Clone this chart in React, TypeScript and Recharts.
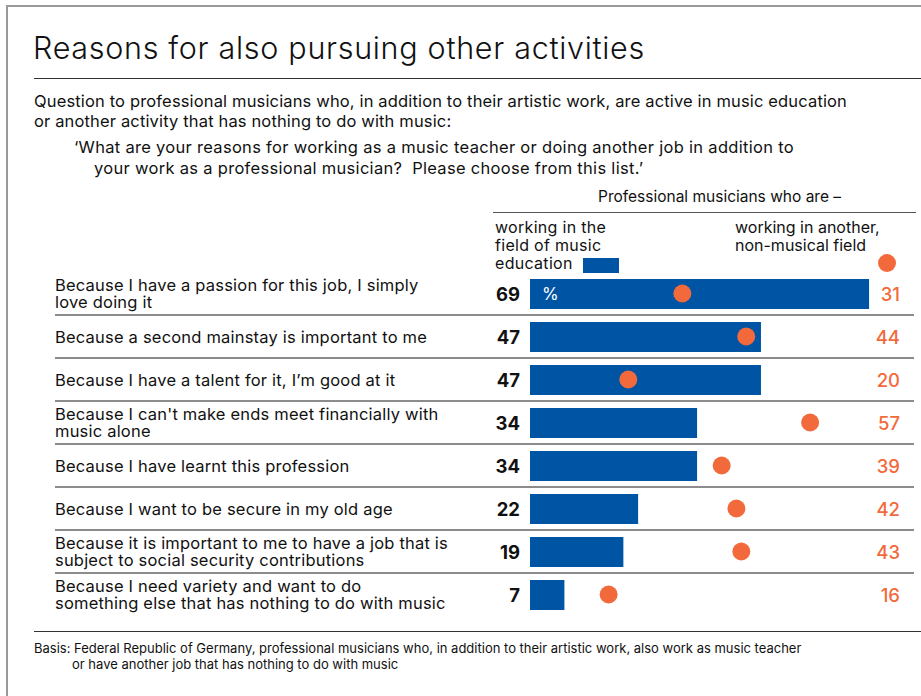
import { Bar, ComposedChart, LabelList, Line, XAxis, YAxis } from 'recharts';

const reasons = [
  ['Because I have a passion for this job, I simply', 'love doing it'],
  ['Because a second mainstay is important to me'],
  ['Because I have a talent for it, I\u2019m good at it'],
  ["Because I can't make ends meet financially with", 'music alone'],
  ['Because I have learnt this profession'],
  ['Because I want to be secure in my old age'],
  ['Because it is important to me to have a job that is', 'subject to social security contributions'],
  ['Because I need variety and want to do', 'something else that has nothing to do with music'],
];
const musicEducation = [69, 47, 47, 34, 34, 22, 19, 7];
const otherField = [31, 44, 20, 57, 39, 42, 43, 16];

const data = reasons.map((r, i) => ({
  reason: r.join('\n'),
  music: musicEducation[i],
  other: otherField[i],
}));

const BLUE = '#0054a4';
const ORANGE = '#f26a3b';
const FONT = 'Inter, Roboto, "Liberation Sans", sans-serif';

const W = 921;
const H = 696;
const PLOT_TOP = 272;
const PLOT_BOTTOM = 616;
const PLOT_LEFT = 530;
const PLOT_RIGHT = 874;
const ROW_H = (PLOT_BOTTOM - PLOT_TOP) / reasons.length;

function ReasonTick(props: any) {
  const { y, payload, index } = props;
  const lines = String(payload.value).split('\n');
  const startY = y - (lines.length - 1) * 8.5;
  return (
    <g>
      <text x={55} y={startY} fontSize={16.5} letterSpacing={0.2} fill="#111" fontFamily={FONT} dominantBaseline="central">
        {lines.map((l, i) => (
          <tspan key={i} x={55} dy={i === 0 ? 0 : 17}>
            {l}
          </tspan>
        ))}
      </text>
      {index < reasons.length - 1 && (
        <line x1={55} x2={914} y1={y + ROW_H / 2} y2={y + ROW_H / 2} stroke="#666" strokeWidth={1.5} />
      )}
    </g>
  );
}

function OtherValue(props: any) {
  const { y, value } = props;
  return (
    <text x={900} y={y} textAnchor="end" dominantBaseline="central" fontSize={18.5} fontWeight={500} fill={ORANGE} fontFamily={FONT}>
      {value}
    </text>
  );
}

function PercentMark(props: any) {
  const { x, y, height, index } = props;
  if (index !== 0) return null;
  return (
    <text x={x + 12} y={y + height / 2} dominantBaseline="central" fontSize={17} fill="#fff" fontFamily={FONT}>
      %
    </text>
  );
}

const abs = (left: number, top: number, extra: React.CSSProperties = {}): React.CSSProperties => ({
  position: 'absolute',
  left,
  top,
  fontFamily: FONT,
  color: '#111',
  whiteSpace: 'nowrap',
  ...extra,
});

export default function App() {
  return (
    <div style={{ position: 'absolute', left: 0, top: 0, width: W, height: H, background: '#fff', overflow: 'hidden' }}>
      <div style={{ position: 'absolute', left: 6, top: 5, width: W, height: H, borderLeft: '2px solid #999', borderTop: '2px solid #999' }} />
      <div style={abs(33, 29, { fontSize: 30.5, fontWeight: 300, letterSpacing: 0.7 })}>Reasons for also pursuing other activities</div>
      <div style={{ position: 'absolute', left: 34, top: 78, width: W, borderTop: '1.5px solid #333' }} />
      <div style={abs(34, 91, { fontSize: 16.5, lineHeight: '20px', letterSpacing: 0.15 })}>
        Question to professional musicians who, in addition to their artistic work, are active in music education
        <br />
        or another activity that has nothing to do with music:
      </div>
      <div style={abs(74, 137, { fontSize: 16.5, lineHeight: '21px', letterSpacing: 0.3 })}>
        {'\u2018What are your reasons for working as a music teacher or doing another job in addition to'}
        <br />
        <span style={{ paddingLeft: 20 }}>{'your work as a professional musician?\u00a0 Please choose from this list.\u2019'}</span>
      </div>
      <div style={abs(598, 187, { fontSize: 15.5 })}>{'Professional musicians who are \u2013'}</div>
      <div style={{ position: 'absolute', left: 493, top: 212, width: 423, borderTop: '1.5px solid #555' }} />
      <div style={abs(495, 218, { fontSize: 16, lineHeight: '18px', letterSpacing: 0.3 })}>
        working in the
        <br />
        field of music
        <br />
        education
      </div>
      <div style={{ position: 'absolute', left: 583, top: 258, width: 36, height: 15, background: BLUE }} />
      <div style={abs(735, 218, { fontSize: 16, lineHeight: '18px' })}>
        working in another,
        <br />
        non-musical field
      </div>
      <div style={{ position: 'absolute', left: 878, top: 254, width: 18, height: 18, borderRadius: 9, background: ORANGE }} />

      <div style={{ position: 'absolute', left: 0, top: 0 }}>
        <ComposedChart
          width={W}
          height={H}
          layout="vertical"
          data={data}
          barCategoryGap={0}
          margin={{ top: PLOT_TOP, bottom: H - PLOT_BOTTOM, left: 0, right: W - PLOT_RIGHT }}
        >
          <XAxis type="number" domain={[0, 70]} hide allowDataOverflow />
          <YAxis
            type="category"
            dataKey="reason"
            width={PLOT_LEFT}
            axisLine={false}
            tickLine={false}
            interval={0}
            tick={<ReasonTick />}
          />
          <Bar dataKey="music" fill={BLUE} barSize={30} isAnimationActive={false}>
            <LabelList dataKey="music" position="left" offset={10} fill="#111" fontSize={18.5} fontWeight={700} fontFamily={FONT} />
            <LabelList dataKey="music" content={<PercentMark />} />
          </Bar>
          <Line
            dataKey="other"
            stroke="none"
            isAnimationActive={false}
            dot={{ r: 9, fill: ORANGE, stroke: 'none' }}
            activeDot={false}
          >
            <LabelList dataKey="other" content={<OtherValue />} />
          </Line>
        </ComposedChart>
      </div>

      <div style={{ position: 'absolute', left: 34, top: 631, width: W, borderTop: '1.5px solid #333' }} />
      <div style={abs(34, 640, { fontSize: 13, lineHeight: '16px' })}>
        Basis: Federal Republic of Germany, professional musicians who, in addition to their artistic work, also work as music teacher
        <br />
        <span style={{ paddingLeft: 38 }}>or have another job that has nothing to do with music</span>
      </div>
    </div>
  );
}
